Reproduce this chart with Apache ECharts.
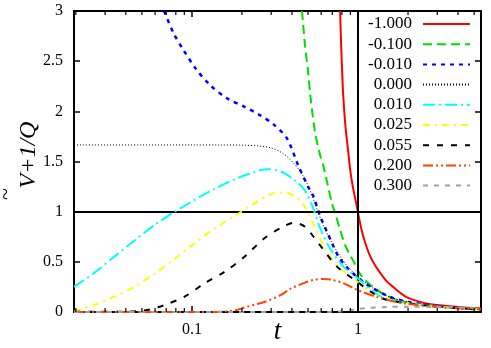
<!DOCTYPE html>
<html><head><meta charset="utf-8">
<script src="https://cdn.jsdelivr.net/npm/echarts@6/dist/echarts.min.js"></script>
<style>html,body{margin:0;padding:0;background:#fff}#c{width:491px;height:348px}</style>
</head><body><div id="c"></div>
<script>
// ---- data (t, value) ----
const labels = ['-1.000','-0.100','-0.010','0.000','0.010','0.025','0.055','0.200','0.300'];
const sM1000 = [[0.78,3.0],[0.79,2.7],[0.80,2.45],[0.815,2.15],[0.84,1.85],[0.87,1.62],[0.9,1.4],[0.93,1.25],[0.97,1.1],[1.0,0.99],[1.05,0.82],[1.1,0.7],[1.16,0.59],[1.25,0.48],[1.36,0.39],[1.5,0.3],[1.63,0.25],[1.8,0.19],[2.0,0.14],[2.5,0.09],[3.0,0.07],[4.0,0.05],[5.5,0.035]];
const sM0100 = [[0.46,3.0],[0.48,2.65],[0.5,2.4],[0.517,2.15],[0.55,1.8],[0.59,1.57],[0.62,1.45],[0.65,1.3],[0.7,1.07],[0.73,0.98],[0.78,0.82],[0.84,0.66],[0.9,0.56],[0.95,0.49],[1.0,0.41],[1.1,0.32],[1.3,0.22],[1.5,0.16],[1.72,0.12],[2.2,0.08],[3.0,0.055],[4.0,0.04],[5.5,0.028]];
const sM0010 = [[0.068,3.0],[0.0775,2.78],[0.089,2.61],[0.105,2.43],[0.129,2.26],[0.1625,2.13],[0.2046,2.05],[0.258,1.96],[0.31,1.87],[0.3735,1.73],[0.439,1.45],[0.504,1.24],[0.54,1.15],[0.57,1.03],[0.6,0.93],[0.65,0.8],[0.7,0.68],[0.764,0.55],[0.85,0.45],[0.94,0.38],[1.0,0.34],[1.19,0.25],[1.56,0.15],[2.0,0.1],[3.0,0.06],[4.0,0.04],[5.5,0.027]];
const sP0000 = [[0.0195,1.665],[0.05,1.665],[0.1,1.665],[0.15,1.665],[0.2,1.663],[0.25,1.655],[0.3,1.635],[0.35,1.585],[0.39,1.52],[0.43,1.44],[0.47,1.35],[0.51,1.23],[0.54,1.12],[0.58,0.98],[0.62,0.86],[0.68,0.72],[0.75,0.6],[0.85,0.47],[0.94,0.39],[1.0,0.35],[1.2,0.25],[1.5,0.16],[2.0,0.1],[3.0,0.06],[4.0,0.04],[5.5,0.027]];
const sP0010 = [[0.0195,0.25],[0.0258,0.39],[0.034,0.55],[0.0449,0.71],[0.0593,0.865],[0.0782,0.995],[0.1032,1.115],[0.1362,1.225],[0.1798,1.32],[0.2372,1.395],[0.2854,1.424],[0.3436,1.40],[0.4133,1.316],[0.4748,1.22],[0.53,1.06],[0.59,0.84],[0.68,0.63],[0.82,0.45],[0.99,0.34],[1.2,0.22],[1.43,0.14],[2.0,0.09],[3.0,0.055],[4.0,0.04],[5.5,0.028]];
const sP0025 = [[0.0195,0.005],[0.0258,0.07],[0.034,0.153],[0.0449,0.25],[0.0593,0.38],[0.0782,0.525],[0.1032,0.68],[0.1362,0.83],[0.1798,0.955],[0.2372,1.08],[0.2854,1.16],[0.328,1.19],[0.376,1.185],[0.433,1.13],[0.475,1.06],[0.54,0.87],[0.62,0.66],[0.75,0.46],[0.94,0.33],[1.2,0.2],[1.43,0.13],[2.0,0.085],[3.0,0.055],[4.0,0.038],[5.5,0.027]];
const sP0055 = [[0.0195,0.002],[0.04,0.003],[0.05,0.012],[0.0566,0.027],[0.0685,0.07],[0.0904,0.153],[0.119,0.286],[0.157,0.40],[0.207,0.55],[0.273,0.735],[0.36,0.857],[0.413,0.89],[0.48,0.85],[0.54,0.75],[0.62,0.62],[0.75,0.45],[0.99,0.30],[1.2,0.2],[1.43,0.13],[2.0,0.085],[3.0,0.055],[4.0,0.038],[5.5,0.027]];
const sP0200 = [[0.0195,0.0],[0.1,0.0],[0.15,0.003],[0.18,0.015],[0.207,0.045],[0.24,0.075],[0.273,0.10],[0.344,0.17],[0.39,0.23],[0.475,0.29],[0.54,0.32],[0.62,0.33],[0.7,0.32],[0.82,0.286],[0.99,0.22],[1.3,0.15],[1.6,0.11],[2.0,0.08],[3.0,0.05],[4.0,0.037],[5.5,0.027]];
const sP0300 = [[0.0195,0.0],[0.5,0.0],[0.7,0.002],[0.8,0.008],[0.9,0.018],[1.0,0.03],[1.2,0.042],[1.5,0.05],[2.0,0.053],[3.0,0.05],[4.0,0.045],[5.5,0.038]];
const xMin = 0.0195, xMax = 5.5;
const yTicks = [0, 0.5, 1, 1.5, 2, 2.5, 3];
const xMajorLabels = [0.1, 1];
const xMinorTicks = [0.02,0.03,0.04,0.05,0.06,0.07,0.08,0.09,0.2,0.3,0.4,0.5,0.6,0.7,0.8,0.9,2,3,4,5];
const refX = 1, refY = 1;

// ---- styles ----
const seriesData = [sM1000,sM0100,sM0010,sP0000,sP0010,sP0025,sP0055,sP0200,sP0300];
const styles = [
  {color:'#ff0000', width:2, type:'solid'},
  {color:'#00e000', width:2, type:[9,5]},
  {color:'#0000ff', width:2.5, type:[4,5]},
  {color:'#000000', width:1, type:[1,2]},
  {color:'#00ffff', width:2, type:[12,4,2,4]},
  {color:'#ffff00', width:2, type:[7,5,2,5]},
  {color:'#000000', width:2, type:[6,8]},
  {color:'#ff4500', width:2, type:[10,3,2,3,2,3]},
  {color:'#a0a0a0', width:2, type:[5,6]}
];
const serif = 'Liberation Serif';

const series = seriesData.map((d, i) => ({
  name: labels[i], type: 'line', data: d, symbol: 'none', smooth: 0.3,
  color: styles[i].color,
  lineStyle: {color: styles[i].color, width: styles[i].width, type: styles[i].type},
  z: 2 + i, animation: false
}));
series[0].markLine = {
  silent: true, symbol: 'none', animation: false, label: {show: false},
  lineStyle: {color: '#000', width: 2, type: 'solid'},
  data: [{xAxis: refX}, {yAxis: refY}]
};
series.push({
  type: 'custom', data: xMinorTicks.map(v => [v]), silent: true, animation: false, z: 20,
  renderItem: function (params, api) {
    const t = api.value(0);
    const p0 = api.coord([t, yTicks[0]]);
    const p1 = api.coord([t, yTicks[yTicks.length - 1]]);
    const st = {stroke: '#000', lineWidth: 1.2};
    return {type: 'group', children: [
      {type: 'line', shape: {x1: p0[0], y1: p0[1], x2: p0[0], y2: p0[1] - 4}, style: st},
      {type: 'line', shape: {x1: p1[0], y1: p1[1], x2: p1[0], y2: p1[1] + 4}, style: st}
    ]};
  }
});

const lbl = {color: '#000', fontFamily: serif, fontSize: 16};
const axLine = {show: true, onZero: false, lineStyle: {color: '#000', width: 2}};
const fmtX = v => { for (const m of xMajorLabels) { if (Math.abs(v - m) < 1e-6 * m) return String(m); } return ''; };

const chart = echarts.init(document.getElementById('c'), null, {renderer: 'canvas'});
chart.setOption({
  animation: false,
  backgroundColor: '#fff',
  textStyle: {fontFamily: serif, color: '#000'},
  grid: {left: 74, right: 10, top: 11, bottom: 36, containLabel: false, outerBoundsMode: 'none'},
  xAxis: [
    {type: 'log', logBase: 10, min: xMin, max: xMax, position: 'bottom',
     axisLine: axLine, splitLine: {show: false},
     axisTick: {inside: true, length: 6, lineStyle: {color: '#000', width: 1.5}},
     axisLabel: Object.assign({margin: 10, formatter: fmtX, showMinLabel: false, showMaxLabel: false}, lbl),
     name: 't', nameLocation: 'middle', nameGap: 6, nameMoveOverlap: false,
     nameTextStyle: {fontFamily: serif, fontStyle: 'italic', fontSize: 27, color: '#000'}},
    {type: 'log', logBase: 10, min: xMin, max: xMax, position: 'top',
     axisLine: axLine, splitLine: {show: false},
     axisTick: {inside: true, length: 6, lineStyle: {color: '#000', width: 1.5}},
     axisLabel: {show: false}}
  ],
  yAxis: [
    {type: 'value', min: 0, max: 3, interval: 0.5, position: 'left',
     axisLine: axLine, splitLine: {show: false},
     axisTick: {inside: true, length: 6, lineStyle: {color: '#000', width: 1.5}},
     axisLabel: Object.assign({margin: 11}, lbl)},
    {type: 'value', min: 0, max: 3, interval: 0.5, position: 'right',
     axisLine: axLine, splitLine: {show: false},
     axisTick: {inside: true, length: 6, lineStyle: {color: '#000', width: 1.5}},
     axisLabel: {show: false}}
  ],
  legend: {
    data: labels, orient: 'vertical', align: 'right', right: 20, top: 15,
    itemWidth: 47, itemHeight: 14, itemGap: 2.2, padding: 0,
    itemStyle: {opacity: 0},
    textStyle: {fontFamily: serif, fontSize: 17, color: '#000', lineHeight: 18, padding: [0, 6, 0, 0]},
    selectedMode: false
  },
  graphic: [
    {type: 'text', x: 29, y: 155, rotation: Math.PI / 2,
     style: {text: 'V+1/Q', font: 'italic 24px "Liberation Serif"', fill: '#000', align: 'center', verticalAlign: 'middle'}},
    {type: 'text', x: 6, y: 194, rotation: Math.PI / 2,
     style: {text: '~', font: '22px "Liberation Serif"', fill: '#000', align: 'center', verticalAlign: 'middle'}}
  ],
  series: series
});
</script>
</body></html>
